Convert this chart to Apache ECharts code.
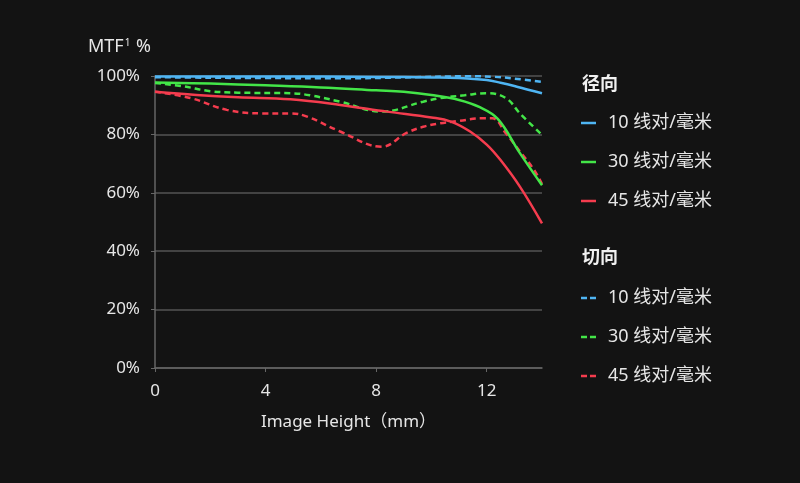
<!DOCTYPE html>
<html><head><meta charset="utf-8">
<script src="https://cdn.jsdelivr.net/npm/echarts@6/dist/echarts.min.js"></script>
<style>html,body{margin:0;padding:0;background:#131313;}#c{width:800px;height:483px;}</style>
</head><body><div id="c"></div>
<script>
const xTicks = [0, 4, 8, 12];
const yTicks = [0, 20, 40, 60, 80, 100];
const groupNames = ['径向', '切向'];
const freqNames = ['10 线对/毫米', '30 线对/毫米', '45 线对/毫米'];

// [image height mm, MTF %]
const sag10 = [[0,99.8],[2,99.8],[4,99.8],[6,99.8],[8,99.7],[10,99.5],[11,99.3],[12,98.6],[12.5,97.7],[13,96.6],[13.5,95.3],[14,94.1]];
const sag30 = [[0,97.8],[2,97.4],[4,96.8],[6,96.1],[8,95.1],[9,94.6],[10,93.5],[11,91.8],[11.75,89.3],[12.4,85.3],[13.2,73.6],[14,62.6]];
const sag45 = [[0,94.6],[1.5,93.5],[3,92.7],[4.9,92],[6.7,90.1],[8.4,87.8],[10,85.8],[10.7,84.4],[11.4,81],[12,76.5],[12.5,71.2],[13.2,62.1],[14,49.5]];
const tan10 = [[0,99.6],[2,99.4],[4,99.3],[6.7,99.2],[9,99.5],[11.3,99.9],[12.3,99.7],[13,99.1],[14,98.0]];
const tan30 = [[0,97.6],[1,96.5],[2,94.8],[3,94.3],[4.9,94.1],[5.6,93.4],[6.7,91.2],[8.2,87.8],[9.7,91.2],[10.3,92.4],[11.2,93.4],[12,94.1],[12.7,92.4],[13.2,87.2],[14,79.8]];
const tan45 = [[0,94.6],[1.3,92.4],[2.6,88.4],[3.9,87.2],[4.9,87.2],[5.5,86.1],[6.7,81],[8.2,75.8],[9.1,80.5],[9.7,82.6],[10.3,83.8],[11,84.6],[11.8,85.5],[12.2,85.5],[12.7,80.3],[13.2,74.2],[13.7,68],[14,63]];

const colors = ['#4fb5f3', '#43e548', '#f53c4e'];
const sagData = [sag10, sag30, sag45];
const tanData = [tan10, tan30, tan45];

const series = [];
const sagNames = [], tanNames = [];
freqNames.forEach((f, i) => {
  sagNames.push(f);
  series.push({name: f, type: 'line', data: sagData[i], smooth: 0.4, symbol: 'none',
    lineStyle: {color: colors[i], width: 2.5}, itemStyle: {color: colors[i]}, z: 3});
});
freqNames.forEach((f, i) => {
  const n = f + '\u200b';
  tanNames.push(n);
  series.push({name: n, type: 'line', data: tanData[i], smooth: 0.4, symbol: 'none',
    lineStyle: {color: colors[i], width: 2.5, type: [6, 4]}, itemStyle: {color: colors[i]}, z: 2});
});

const font = '"Noto Sans", "Noto Sans CJK SC", sans-serif';
const FS = 17;
const LFS = 18;
const legendCommon = {
  orient: 'vertical', left: 581, padding: 0, itemWidth: 15, itemHeight: 14, itemGap: 19,
  textStyle: {color: '#e6e6e6', fontSize: LFS, lineHeight: 20, fontFamily: font, padding: [0, 0, 0, 7]},
  selectedMode: false
};

const option = {
  backgroundColor: '#131313',
  animation: false,
  title: [
    {text: '{a|MTF}{s|1}{a| %}', left: 88, top: 38, padding: 0,
     textStyle: {rich: {a: {fontSize: 18, fontWeight: 'normal', color: '#e6e6e6', fontFamily: font}, s: {fontSize: 10, fontWeight: 'normal', color: '#e6e6e6', verticalAlign: 'top', padding: [0,1,8,1], fontFamily: font}}}},
    {text: groupNames[0], left: 582, top: 76, padding: 0, textStyle: {fontSize: LFS, fontWeight: 'bold', color: '#f0f0f0', fontFamily: font}},
    {text: groupNames[1], left: 582, top: 249, padding: 0, textStyle: {fontSize: LFS, fontWeight: 'bold', color: '#f0f0f0', fontFamily: font}}
  ],
  legend: [
    Object.assign({}, legendCommon, {data: sagNames, top: 113, icon: 'path://M0,6 L15,6 L15,8.5 L0,8.5 Z'}),
    Object.assign({}, legendCommon, {data: tanNames, top: 288, icon: 'path://M0,6 L6,6 L6,8.5 L0,8.5 Z M9,6 L15,6 L15,8.5 L9,8.5 Z'})
  ],
  grid: {left: 155, right: 258, top: 76, bottom: 115},
  xAxis: {
    type: 'value', min: 0, max: 14, interval: 4,
    name: 'Image Height（mm）', nameLocation: 'middle', nameGap: 46,
    nameTextStyle: {color: '#e6e6e6', fontSize: FS, fontFamily: font},
    axisLine: {show: true, lineStyle: {color: '#666', width: 1.5}},
    axisTick: {show: true, length: 4, lineStyle: {color: '#666'}, customValues: xTicks},
    axisLabel: {color: '#e6e6e6', fontSize: FS, fontFamily: font, margin: 15, customValues: xTicks},
    splitLine: {show: false}
  },
  yAxis: {
    type: 'value', min: 0, max: 100, interval: 20,
    axisLine: {show: true, lineStyle: {color: '#666', width: 1.5}},
    axisTick: {show: true, length: 4, lineStyle: {color: '#666'}},
    axisLabel: {color: '#e6e6e6', fontSize: FS, fontFamily: font, margin: 15, formatter: '{value}%', customValues: yTicks},
    splitLine: {show: true, lineStyle: {color: '#555', width: 1.5}}
  },
  series: series
};
const chart = echarts.init(document.getElementById('c'));
chart.setOption(option);
</script></body></html>
